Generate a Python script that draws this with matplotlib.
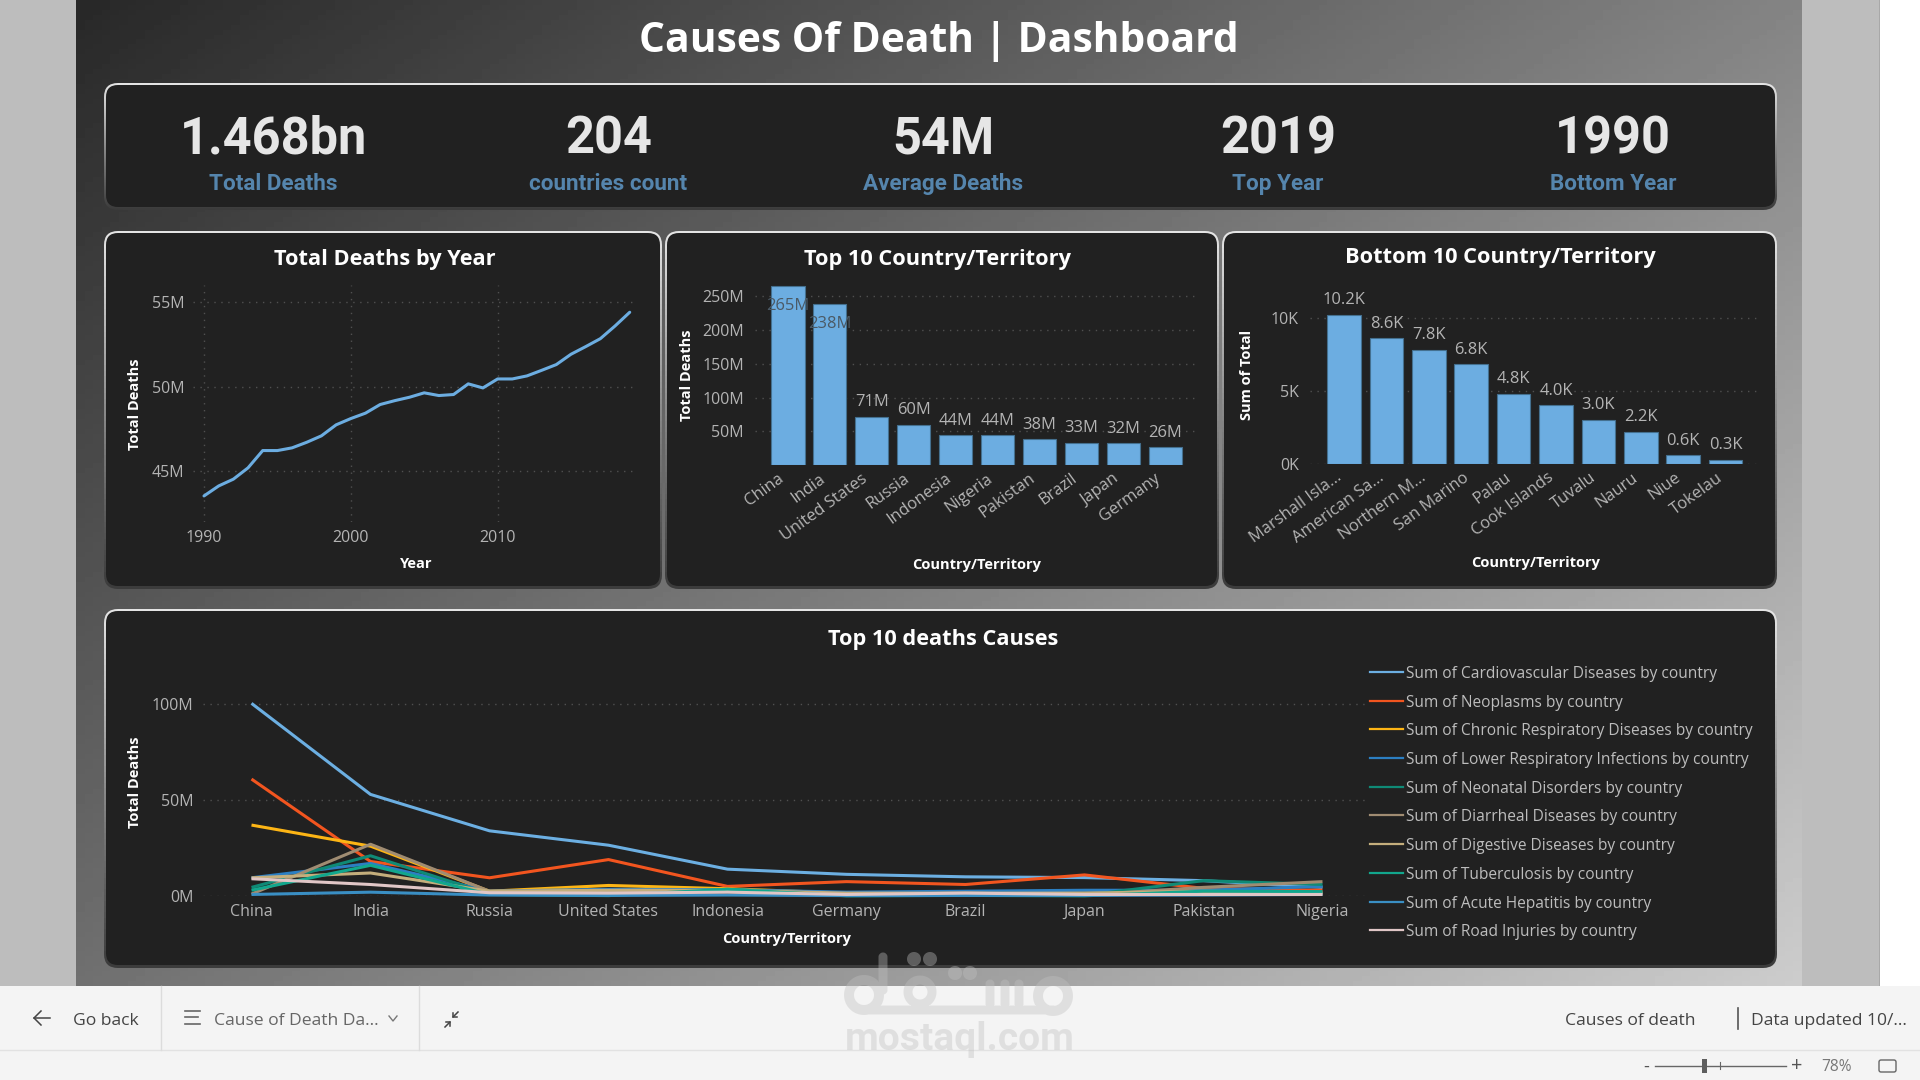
import numpy as np
import matplotlib
matplotlib.use('Agg')
import matplotlib.pyplot as plt
from matplotlib.colors import LinearSegmentedColormap
from matplotlib.patches import FancyBboxPatch, Rectangle
from matplotlib.ticker import FuncFormatter
from matplotlib.transforms import ScaledTranslation

plt.rcParams['font.family'] = ['Open Sans', 'DejaVu Sans']

W, H = 1920, 1080
PX = 0.72  # pixel size to points at dpi 100

# KPI strip
kpi_values = ['1.468bn', '204', '54M', '2019', '1990']
kpi_labels = ['Total Deaths', 'countries count', 'Average Deaths', 'Top Year', 'Bottom Year']

# deaths per year, in millions
years = list(range(1990, 2020))
deaths_by_year = [43.54, 44.13, 44.53, 45.2, 46.22, 46.22, 46.38, 46.71, 47.09, 47.74,
                  48.11, 48.43, 48.94, 49.17, 49.37, 49.63, 49.47, 49.53, 50.16, 49.92,
                  50.45, 50.45, 50.63, 50.96, 51.3, 51.91, 52.36, 52.83, 53.58, 54.39]

top_countries = ['China', 'India', 'United States', 'Russia', 'Indonesia', 'Nigeria',
                 'Pakistan', 'Brazil', 'Japan', 'Germany']
top_totals = [265, 238, 71, 60, 44, 44, 38, 33, 32, 26]

bottom_countries = ['Marshall Isla...', 'American Sa...', 'Northern M...', 'San Marino', 'Palau',
                    'Cook Islands', 'Tuvalu', 'Nauru', 'Niue', 'Tokelau']
bottom_totals = [10.2, 8.6, 7.8, 6.8, 4.8, 4.0, 3.0, 2.2, 0.6, 0.3]

# causes per country, in millions
cause_countries = ['China', 'India', 'Russia', 'United States', 'Indonesia', 'Germany',
                   'Brazil', 'Japan', 'Pakistan', 'Nigeria']
cardiovascular = [100.5, 53, 34, 26.5, 14, 11.3, 10, 9.6, 8, 4.5]
neoplasms = [61, 18, 9.5, 19, 5, 7.5, 6, 11, 4, 3]
chronic_resp = [37, 26, 2.5, 5.5, 3.8, 1.5, 1.8, 1.5, 2.5, 1.5]
lower_resp = [9.5, 17, 2.5, 3.5, 3.3, 2, 2.5, 3, 3, 5]
neonatal = [4.5, 21, 1, 1, 3.5, 0.3, 1.2, 0.3, 8, 6]
diarrheal = [1, 27, 2.5, 2.5, 2.5, 0.8, 1.5, 0.5, 4.5, 7.5]
digestive = [9.5, 12, 2.5, 3, 3, 1.5, 1.5, 1.5, 2.5, 1.5]
tuberculosis = [3, 16, 0.8, 0.2, 3.5, 0.1, 0.3, 0.1, 2.5, 2.3]
hepatitis = [0.8, 2, 0.5, 0.3, 0.5, 0.2, 0.3, 0.3, 0.5, 0.8]
road_injuries = [9, 6, 1.7, 1.5, 2, 0.8, 1.5, 0.8, 0.8, 0.8]

cause_series = [cardiovascular, neoplasms, chronic_resp, lower_resp, neonatal,
                diarrheal, digestive, tuberculosis, hepatitis, road_injuries]
cause_names = ['Cardiovascular Diseases', 'Neoplasms', 'Chronic Respiratory Diseases',
               'Lower Respiratory Infections', 'Neonatal Disorders', 'Diarrheal Diseases',
               'Digestive Diseases', 'Tuberculosis', 'Acute Hepatitis', 'Road Injuries']
cause_colors = ['#6cafe2', '#f2551f', '#fdb515', '#2c7fc2', '#0f8a76',
                '#a08c72', '#c4ae7c', '#12a78d', '#3a8fc4', '#e0c6c6']

BLUE = '#6cade1'
PANEL = '#212121'
TICK = '#b4b4b4'
GRID = '#505050'

fig = plt.figure(figsize=(W / 100, H / 100), dpi=100, facecolor='white')
bg = fig.add_axes([0, 0, 1, 1], zorder=0)
bg.set_xlim(0, W)
bg.set_ylim(H, 0)
bg.axis('off')


def px_axes(x0, y0, x1, y1):
    ax = fig.add_axes([x0 / W, 1 - y1 / H, (x1 - x0) / W, (y1 - y0) / H], zorder=2)
    ax.patch.set_alpha(0)
    for s in ax.spines.values():
        s.set_visible(False)
    ax.tick_params(length=0, colors=TICK, labelsize=16 * PX)
    return ax


def panel(x0, y0, x1, y1):
    # rounded card with a light top edge fading to a dark bottom edge
    shape = FancyBboxPatch((x0, y0), x1 - x0, y1 - y0, boxstyle='round,pad=0,rounding_size=14',
                           fc='none', ec='none', zorder=2)
    bg.add_patch(shape)
    edge = np.linspace(0, 1, 64).reshape(-1, 1)
    img = bg.imshow(edge, extent=(x0, x1, y1, y0), aspect='auto', zorder=2,
                    cmap=LinearSegmentedColormap.from_list('edge', ['#e4e4e4', '#8a8a8a', '#3c3c3c']))
    img.set_clip_path(shape)
    bg.add_patch(FancyBboxPatch((x0 + 2, y0 + 2), x1 - x0 - 4, y1 - y0 - 5,
                                boxstyle='round,pad=0,rounding_size=12', fc=PANEL, ec='none', zorder=3))


def txt(x, y, s, size, color='#ffffff', weight='normal', **kw):
    kw.setdefault('ha', 'center')
    kw.setdefault('va', 'center')
    return bg.text(x, y + 2, s, fontsize=size * PX, color=color, fontweight=weight, zorder=5, **kw)


def rotated_labels(ax, names, dx):
    # tick_params resets label transforms, so this has to run after it
    ax.set_xticks(range(10))
    ax.set_xticklabels(names, rotation=36, ha='right', va='top', rotation_mode='anchor', fontsize=16.5 * PX)
    shift = ScaledTranslation(dx / 100, 0, fig.dpi_scale_trans)
    for lab in ax.get_xticklabels():
        lab.set_transform(lab.get_transform() + shift)


# page background
bg.add_patch(Rectangle((0, 0), 1879, 986, fc='#bdbdbd', ec='none', zorder=0))
bg.add_patch(Rectangle((1879, 0), 1, 986, fc='#a8a8a8', ec='none', zorder=0))
xx, yy = np.meshgrid(np.linspace(0, 1, 200), np.linspace(0, 1, 200))
bg.imshow(40 + 92 * xx + 72 * yy, extent=(76, 1802, 986, 0), cmap='gray', vmin=0, vmax=255,
          aspect='auto', zorder=1)
bg.set_xlim(0, W)
bg.set_ylim(H, 0)

txt(939, 39, 'Causes Of Death | Dashboard', 40.8, weight='bold')

panel(104, 83, 1777, 210)
panel(104, 231, 662, 589)
panel(665, 231, 1219, 589)
panel(1222, 231, 1777, 589)
panel(104, 609, 1777, 968)

for cx, val, lab in zip([273, 608.5, 943, 1278, 1613], kpi_values, kpi_labels):
    bg.text(cx, 140, val, fontsize=50.5 * PX, color='#e6e6e6', fontweight='bold', family='Roboto',
            ha='center', va='center', zorder=5)
    bg.text(cx, 184, lab, fontsize=22.5 * PX, color='#5585ad', fontweight='bold', family='Roboto',
            ha='center', va='center', zorder=5)

# panel titles and axis titles
title_size = 21.8
txt(385, 257.5, 'Total Deaths by Year', title_size, weight='bold')
txt(938, 257.5, 'Top 10 Country/Territory', title_size, weight='bold')
txt(1500, 255.5, 'Bottom 10 Country/Territory', title_size, weight='bold')
txt(943, 637.5, 'Top 10 deaths Causes', title_size, weight='bold')

axis_size = 14.6
txt(135, 402, 'Total Deaths', axis_size, weight='bold', rotation=90)
txt(416, 562.5, 'Year', axis_size, weight='bold')
txt(687, 373, 'Total Deaths', axis_size, weight='bold', rotation=90)
txt(977, 562.5, 'Country/Territory', axis_size, weight='bold')
txt(1247, 373, 'Sum of Total', axis_size, weight='bold', rotation=90)
txt(1536, 561.5, 'Country/Territory', axis_size, weight='bold')
txt(135, 780, 'Total Deaths', axis_size, weight='bold', rotation=90)
txt(787, 936.5, 'Country/Territory', axis_size, weight='bold')

# yearly line
ax1 = px_axes(193, 285, 636, 522)
ax1.set_xlim(1990 - 11 / 14.68, 1990 + 432 / 14.68)
ax1.set_ylim(42, 56)
ax1.set_xticks([1990, 2000, 2010])
ax1.set_yticks([45, 50, 55])
ax1.yaxis.set_major_formatter(FuncFormatter(lambda v, _: f'{v:.0f}M'))
ax1.grid(True, ls=(0, (1, 4)), color=GRID, lw=1)
ax1.set_axisbelow(True)
ax1.plot(years, deaths_by_year, color=BLUE, lw=2.2, solid_capstyle='round')
ax1.tick_params(axis='x', pad=6)
ax1.tick_params(axis='y', pad=6)

# top 10 bars
ax2 = px_axes(755, 285, 1198, 465)
ax2.set_xlim(-33 / 41.9, 410 / 41.9)
ax2.set_ylim(0, 180 / 0.675)
ax2.set_yticks([50, 100, 150, 200, 250])
ax2.yaxis.set_major_formatter(FuncFormatter(lambda v, _: f'{v:.0f}M'))
ax2.grid(True, axis='y', ls=(0, (1, 4)), color=GRID, lw=1)
ax2.set_axisbelow(True)
ax2.bar(range(10), top_totals, width=0.79, color=BLUE, edgecolor='#44708f', lw=0.8)
ax2.tick_params(axis='x', pad=4)
ax2.tick_params(axis='y', pad=8)
rotated_labels(ax2, top_countries, -11)
for i, v in enumerate(top_totals):
    if v > 200:
        ax2.annotate(f'{v}M', (i, v), xytext=(0, -14), textcoords='offset points', ha='center', va='center',
                     color='#4b5a66', fontsize=16.5 * PX, annotation_clip=False)
    else:
        ax2.annotate(f'{v}M', (i, v), xytext=(0, 10.5), textcoords='offset points', ha='center', va='center',
                     color=TICK, fontsize=16.5 * PX, annotation_clip=False)

# bottom 10 bars
ax3 = px_axes(1310, 290, 1759, 464)
ax3.set_xlim(-34 / 42.4, 415 / 42.4)
ax3.set_ylim(0, 174 / 14.64)
ax3.set_yticks([0, 5, 10])
ax3.yaxis.set_major_formatter(FuncFormatter(lambda v, _: f'{v:.0f}K'))
ax3.grid(True, axis='y', ls=(0, (1, 4)), color=GRID, lw=1)
ax3.set_axisbelow(True)
ax3.bar(range(10), bottom_totals, width=0.797, color=BLUE, edgecolor='#44708f', lw=0.8)
ax3.tick_params(axis='x', pad=4)
ax3.tick_params(axis='y', pad=8)
rotated_labels(ax3, bottom_countries, -9)
for i, v in enumerate(bottom_totals):
    ax3.annotate(f'{v:.1f}K', (i, v), xytext=(0, 10.5), textcoords='offset points', ha='center', va='center',
                 color=TICK, fontsize=16.5 * PX, annotation_clip=False)

# causes by country
ax4 = px_axes(203, 689, 1366, 896)
ax4.set_xlim(-48.5 / 119, 1163 / 119 - 48.5 / 119)
ax4.set_ylim(0, 207 / 1.917)
ax4.set_yticks([0, 50, 100])
ax4.yaxis.set_major_formatter(FuncFormatter(lambda v, _: f'{v:.0f}M'))
ax4.grid(True, axis='y', ls=(0, (1, 4)), color=GRID, lw=1)
ax4.set_axisbelow(True)
for vals, col in zip(cause_series, cause_colors):
    ax4.plot(range(10), vals, color=col, lw=2.2, solid_capstyle='butt', clip_on=False)
ax4.set_xticks(range(10))
ax4.set_xticklabels(cause_countries)
ax4.tick_params(axis='x', pad=6)
ax4.tick_params(axis='y', pad=7)

# hand placed legend so the rows keep their spacing
legend_rows = [672, 701, 729, 758, 787, 815, 844, 873, 902, 930]
for y, name, col in zip(legend_rows, cause_names, cause_colors):
    bg.plot([1370, 1403], [y, y], color=col, lw=1.6, zorder=5)
    txt(1406, y, f'Sum of {name} by country', 15.5, color='#bdbdbd', ha='left')

# bottom toolbar
bg.add_patch(Rectangle((0, 986), W, 94, fc='#f4f4f4', ec='none', zorder=6))
bg.plot([0, W], [1050, 1050], color='#e2e2e2', lw=1, zorder=7)
for x in (161, 419):
    bg.plot([x, x], [986, 1050], color='#dcdcdc', lw=1, zorder=7)


def bar_text(x, y, s, size=17.5, color='#444444', ha='left'):
    bg.text(x, y + 2, s, fontsize=size * PX, color=color, ha=ha, va='center', zorder=8)


bar_text(73, 1019, 'Go back')
bar_text(214, 1019, 'Cause of Death Da...', color='#666666')
bar_text(1565, 1019, 'Causes of death')
bar_text(1751, 1019, 'Data updated 10/...')
bar_text(1821, 1065, '78%', size=15.5, color='#777777')
bar_text(1646, 1065, '-', size=18, color='#555555', ha='center')
bar_text(1797, 1064, '+', size=20, color='#555555', ha='center')

icon = dict(color='#444444', lw=1.1, zorder=8)
bg.plot([34, 50], [1018, 1018], **icon)
bg.plot([41, 34, 41], [1011, 1018, 1025], **icon)
for y, x1 in zip((1011, 1017, 1024), (200, 198, 200)):
    bg.plot([185, x1], [y, y], color='#666666', lw=1.2, zorder=8)
bg.plot([389, 393, 397], [1016, 1021, 1016], color='#777777', lw=1, zorder=8)
bg.plot([445, 450], [1027, 1022], **icon)
bg.plot([446, 450, 450], [1022, 1022, 1026], **icon)
bg.plot([453, 458], [1017, 1012], **icon)
bg.plot([453, 453, 457], [1013, 1017, 1017], **icon)
bg.plot([1738, 1738], [1008, 1029], color='#555555', lw=1.2, zorder=8)
bg.plot([1655, 1786], [1066, 1066], color='#666666', lw=1, zorder=8)
bg.plot([1720, 1720], [1062, 1069], color='#666666', lw=0.8, zorder=8)
bg.add_patch(Rectangle((1702, 1059), 5, 14, fc='#5e5e5e', ec='none', zorder=8))
bg.add_patch(FancyBboxPatch((1879, 1060), 17, 12, boxstyle='round,pad=0,rounding_size=2',
                            fc='none', ec='#666666', lw=1, zorder=8))

# mostaql logo on top of everything, built as one mask so overlaps stay even
top = fig.add_axes([0, 0, 1, 1], zorder=5)
top.set_xlim(0, W)
top.set_ylim(H, 0)
top.axis('off')
top.patch.set_alpha(0)
gx, gy = np.meshgrid(np.arange(830, 1090) + 0.5, np.arange(945, 1025) + 0.5)


def disc(cx, cy, r):
    return np.clip(r - np.hypot(gx - cx, gy - cy) + 0.5, 0, 1)


def ring(cx, cy, r, t):
    return np.clip(t / 2 - np.abs(np.hypot(gx - cx, gy - cy) - r) + 0.5, 0, 1)


def stem(x0, x1, y0, y1):
    # capsule between (x0, y0) and (x1, y1), either vertical or horizontal
    px = np.clip(gx, x0, x1)
    py = np.clip(gy, y0, y1)
    return np.clip(4.5 - np.hypot(gx - px, gy - py) + 0.5, 0, 1)


shapes = [ring(864, 995, 15, 10), ring(920, 992, 12, 9), ring(1053, 996, 15, 10),
          stem(883, 883, 957, 990), stem(864, 1053, 1010, 1010),
          stem(990, 990, 984, 1010), stem(1005, 1005, 984, 1010), stem(1019, 1019, 984, 1010),
          disc(914, 959, 7), disc(930, 959, 7), disc(955, 973, 7), disc(970, 973, 7)]
mask = np.max(shapes, axis=0)
rgba = np.zeros(mask.shape + (4,))
rgba[..., :3] = 192 / 255
rgba[..., 3] = mask * 0.39
top.imshow(rgba, extent=(830, 1090, 1025, 945), aspect='auto', interpolation='nearest')
top.set_xlim(0, W)
top.set_ylim(H, 0)
top.text(960, 1039, 'mostaql.com', fontsize=39 * PX, color='#c0c0c0', alpha=0.39, ha='center', va='center',
         fontweight='bold', family='Roboto')

fig.savefig('out.png', dpi=100)
